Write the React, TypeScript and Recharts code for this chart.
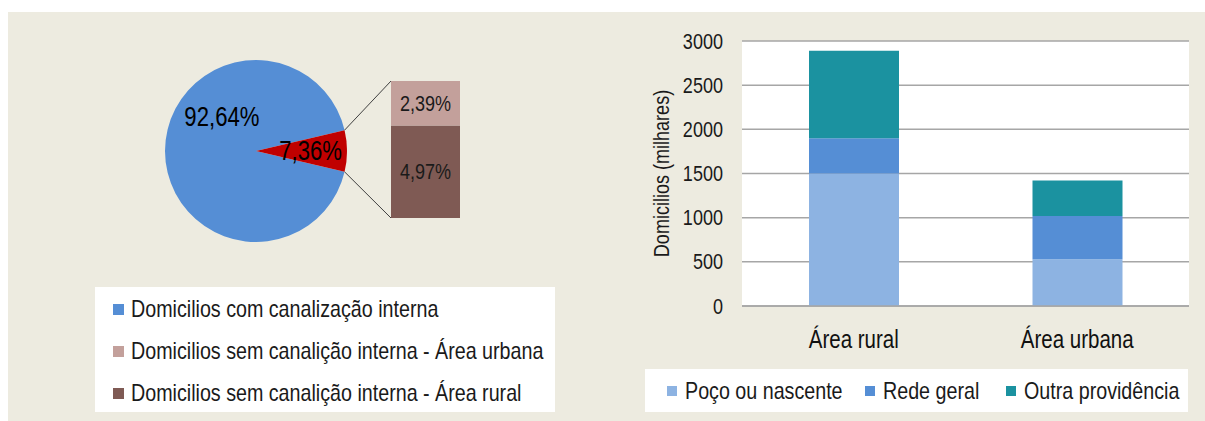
import React from 'react';
import { PieChart, Pie, Cell, BarChart, Bar, XAxis, YAxis, CartesianGrid, LabelList } from 'recharts';

// ---------- data ----------
const pieNames = ['Domicilios com canalização interna', 'Domicilios sem canalização interna'];
const pieValues = [92.64, 7.36];
const splitNames = ['Área rural', 'Área urbana'];
const splitValues = [4.97, 2.39];
const pieLegendLabels = [
  'Domicilios com canalização interna',
  'Domicilios sem canalição interna - Área urbana',
  'Domicilios sem canalição interna - Área rural',
];

const categories = ['Área rural', 'Área urbana'];
const pocoValues = [1500, 528];
const redeValues = [400, 490];
const outraValues = [990, 403];
const seriesNames = ['Poço ou nascente', 'Rede geral', 'Outra providência'];
const yTicks = [0, 500, 1000, 1500, 2000, 2500, 3000];
const yLabel = 'Domicilios (milhares)';

// ---------- styles ----------
const FONT = "'Liberation Sans', Arial, sans-serif";
const NARROW = 0.82;
const C_BG = '#edebe0';
const C_PIE = ['#558ed5', '#c00000'];
const C_SPLIT = ['#7f5a54', '#c3a09b'];
const C_BARS = ['#8db3e2', '#558ed5', '#1b92a0'];
const C_GRID = '#a6a6a6';
const C_TEXT = '#1a1a1a';

const PIE = { cx: 256, cy: 151, r: 91 };
const SPLIT_BOX = { left: 391, top: 81, width: 69, height: 137 };
const pieLabelPos = [
  { angle: 135, k: 0.53 },
  { angle: null as number | null, k: 0.6 },
];
const barLegendX = [22, 220, 361];

const pieData = pieNames.map((n, i) => ({ name: n, value: pieValues[i] }));
const splitData = [{ name: 'sem', rural: splitValues[0], urbana: splitValues[1] }];
const barData = categories.map((c, i) => ({
  cat: c,
  poco: pocoValues[i],
  rede: redeValues[i],
  outra: outraValues[i],
}));

const fmt = (v: number) => v.toFixed(2).replace('.', ',') + '%';

const pieTotal = pieValues.reduce((a, b) => a + b, 0);
const halfSmall = (pieValues[1] / pieTotal) * 180;
const splitTotal = splitValues.reduce((a, b) => a + b, 0);

// condensed text (Arial Narrow look)
const NText = (props: any) => {
  const { x, y, anchor = 'start', size, fill = C_TEXT, dy, baseline, rotate, children } = props;
  const tr = `translate(${x} ${y})${rotate ? ` rotate(${rotate})` : ''} scale(${NARROW} 1)`;
  return (
    <text transform={tr} x={0} y={0} dy={dy} textAnchor={anchor} dominantBaseline={baseline}
      fontSize={size} fontFamily={FONT} fill={fill}>
      {children}
    </text>
  );
};

const narrowSpan: React.CSSProperties = {
  display: 'inline-block',
  transform: `scaleX(${NARROW})`,
  transformOrigin: 'left center',
  whiteSpace: 'nowrap',
  fontFamily: FONT,
  color: C_TEXT,
};

const renderPieLabel = (p: any) => {
  const pos = pieLabelPos[p.index];
  const angDeg = pos.angle == null ? p.midAngle : pos.angle;
  const a = (angDeg * Math.PI) / 180;
  const r = p.outerRadius * pos.k;
  const x = p.cx + r * Math.cos(-a);
  const y = p.cy + r * Math.sin(-a);
  return <NText x={x} y={y} anchor="middle" baseline="central" size={27} fill="#000">{fmt(p.value)}</NText>;
};

const renderSplitLabel = (p: any) => (
  <NText x={p.x + p.width / 2} y={p.y + p.height / 2} anchor="middle" baseline="central" size={22}>
    {fmt(p.value)}
  </NText>
);

const YTick = (p: any) => (
  <NText x={p.x} y={p.y} anchor="end" baseline="central" size={22}>{p.payload.value}</NText>
);

const XTick = (p: any) => (
  <NText x={p.x} y={p.y} anchor="middle" dy="0.71em" size={25} fill="#111">{p.payload.value}</NText>
);

const YLabel = (props: any) => {
  const vb = props.viewBox || { x: 640, y: 41, width: 102, height: 265 };
  return (
    <NText x={vb.x + 21} y={vb.y + vb.height / 2} rotate={-90} anchor="middle" baseline="central" size={22}>
      {yLabel}
    </NText>
  );
};

export default function App() {
  const aRad = (halfSmall * Math.PI) / 180;
  const p1 = { x: PIE.cx + PIE.r * Math.cos(aRad), y: PIE.cy - PIE.r * Math.sin(aRad) };
  const p2 = { x: PIE.cx + PIE.r * Math.cos(aRad), y: PIE.cy + PIE.r * Math.sin(aRad) };
  const pieSwatches = [C_PIE[0], C_SPLIT[1], C_SPLIT[0]];

  return (
    <div style={{ position: 'absolute', left: 0, top: 0, width: 1205, height: 421, overflow: 'hidden', background: '#fff', fontFamily: FONT }}>
      <div style={{ position: 'absolute', left: 8, top: 12, right: 0, bottom: 0, background: C_BG }} />

      {/* Pie */}
      <div style={{ position: 'absolute', left: 0, top: 0 }}>
        <PieChart width={480} height={270} margin={{ top: 0, right: 0, bottom: 0, left: 0 }}>
          <Pie
            data={pieData}
            dataKey="value"
            cx={PIE.cx}
            cy={PIE.cy}
            outerRadius={PIE.r}
            startAngle={halfSmall}
            endAngle={360 + halfSmall}
            stroke="none"
            label={renderPieLabel}
            labelLine={false}
            isAnimationActive={false}
          >
            {pieData.map((d, i) => (
              <Cell key={d.name} fill={C_PIE[i]} />
            ))}
          </Pie>
        </PieChart>
      </div>

      {/* connector lines */}
      <svg style={{ position: 'absolute', left: 0, top: 0, pointerEvents: 'none' }} width={480} height={270}>
        <line x1={p1.x} y1={p1.y} x2={SPLIT_BOX.left} y2={SPLIT_BOX.top} stroke="#404040" strokeWidth={1} />
        <line x1={p2.x} y1={p2.y} x2={SPLIT_BOX.left} y2={SPLIT_BOX.top + SPLIT_BOX.height} stroke="#404040" strokeWidth={1} />
      </svg>

      {/* bar of pie */}
      <div style={{ position: 'absolute', left: SPLIT_BOX.left, top: SPLIT_BOX.top }}>
        <BarChart width={SPLIT_BOX.width} height={SPLIT_BOX.height} data={splitData}
          margin={{ top: 0, right: 0, bottom: 0, left: 0 }} barCategoryGap={0}>
          <XAxis dataKey="name" hide />
          <YAxis hide domain={[0, splitTotal]} allowDataOverflow />
          <Bar dataKey="rural" name={splitNames[0]} stackId="s" fill={C_SPLIT[0]} isAnimationActive={false}>
            <LabelList dataKey="rural" content={renderSplitLabel} />
          </Bar>
          <Bar dataKey="urbana" name={splitNames[1]} stackId="s" fill={C_SPLIT[1]} isAnimationActive={false}>
            <LabelList dataKey="urbana" content={renderSplitLabel} />
          </Bar>
        </BarChart>
      </div>

      {/* pie legend */}
      <div style={{ position: 'absolute', left: 95, top: 287, width: 460, height: 125, background: '#fff', paddingTop: 1, boxSizing: 'border-box' }}>
        {pieLegendLabels.map((l, i) => (
          <div key={l} style={{ height: 42, display: 'flex', alignItems: 'center', paddingLeft: 18 }}>
            <div style={{ width: 11, height: 11, flexShrink: 0, background: pieSwatches[i], marginRight: 7 }} />
            <span style={{ ...narrowSpan, fontSize: 24 }}>{l}</span>
          </div>
        ))}
      </div>

      {/* stacked bar chart */}
      <div style={{ position: 'absolute', left: 640, top: 20 }}>
        <BarChart width={560} height={340} data={barData} margin={{ top: 21, right: 11, bottom: 14, left: 0 }} barSize={90}>
          <CartesianGrid vertical={false} stroke={C_GRID} strokeWidth={1.5} fill="#fff" />
          <XAxis dataKey="cat" tickLine={false} axisLine={{ stroke: C_GRID, strokeWidth: 1.5 }} tickSize={0} tickMargin={24} height={40}
            tick={<XTick />} />
          <YAxis domain={[0, 3000]} ticks={yTicks} width={102} axisLine={false} tickLine={false} tickSize={0} tickMargin={19}
            tick={<YTick />} label={{ content: YLabel }} />
          <Bar dataKey="poco" name={seriesNames[0]} stackId="a" fill={C_BARS[0]} isAnimationActive={false} />
          <Bar dataKey="rede" name={seriesNames[1]} stackId="a" fill={C_BARS[1]} isAnimationActive={false} />
          <Bar dataKey="outra" name={seriesNames[2]} stackId="a" fill={C_BARS[2]} isAnimationActive={false} />
        </BarChart>
      </div>

      {/* bar legend */}
      <div style={{ position: 'absolute', left: 645, top: 369, width: 543, height: 43, background: '#fff' }}>
        {seriesNames.map((s, i) => (
          <div key={s} style={{ position: 'absolute', left: barLegendX[i], top: 0, height: 43, display: 'flex', alignItems: 'center' }}>
            <div style={{ width: 10, height: 10, flexShrink: 0, background: C_BARS[i], marginRight: 8 }} />
            <span style={{ ...narrowSpan, fontSize: 24 }}>{s}</span>
          </div>
        ))}
      </div>
    </div>
  );
}
